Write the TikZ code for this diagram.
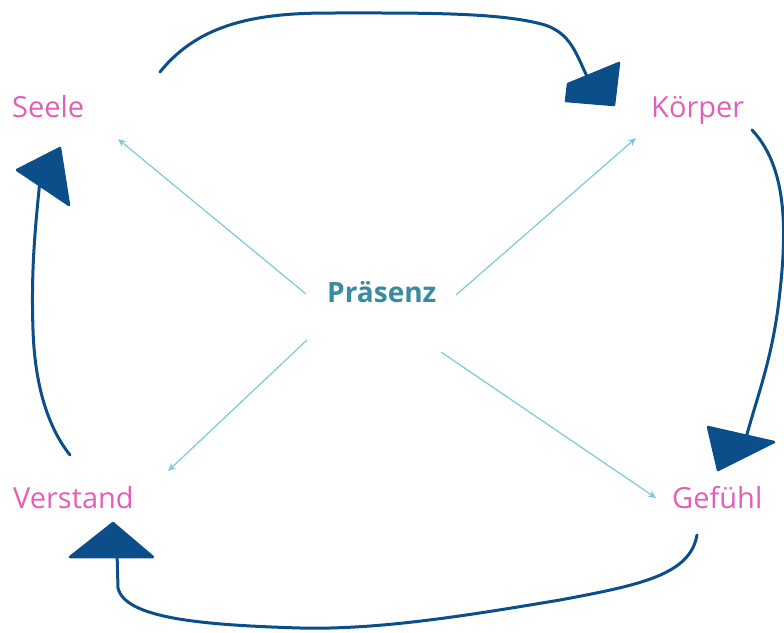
\documentclass[tikz,border=0pt]{standalone}
\usepackage{fontspec}
\setmainfont{Open Sans}
\usetikzlibrary{arrows.meta}
\definecolor{pinklab}{RGB}{225,95,185}
\definecolor{tealtxt}{RGB}{55,140,162}
\definecolor{lightln}{RGB}{125,200,218}
\definecolor{darkln}{RGB}{12,78,138}
\tikzset{
  lab/.style={text=pinklab, anchor=base west, inner sep=0pt, font=\fontsize{29}{30}\selectfont},
  ctr/.style={text=tealtxt, anchor=base west, inner sep=0pt, font=\fontsize{28}{29}\selectfont\fontseries{sb}\selectfont},
  spoke/.style={draw=lightln, line width=1.2pt, -{Stealth[length=8pt,width=7pt]}},
  loop/.style={draw=darkln, line width=3pt, line cap=round, line join=round},
  head/.style={draw=darkln, fill=darkln, line width=2.5pt, line join=round}
}
\begin{document}
\begin{tikzpicture}[x=1pt,y=-1pt]
\useasboundingbox (0,0) rectangle (784,632);
% labels
\node[lab] (seele) at (12,117) {Seele};
\node[lab] (koerper) at (651,117) {Körper};
\node[lab] (verstand) at (13,508) {Verstand};
\node[lab] (gefuehl) at (672,508) {Gefühl};
\node[ctr] (praesenz) at (327,302) {Präsenz};
% spoke endpoints
\coordinate (s0) at (306,294);
\coordinate (s1) at (118,139);
\coordinate (k0) at (456,295);
\coordinate (k1) at (636,138);
\coordinate (v0) at (307,340);
\coordinate (v1) at (168,471);
\coordinate (g0) at (441,352);
\coordinate (g1) at (656,498);
\draw[spoke] (s0) -- (s1);
\draw[spoke] (k0) -- (k1);
\draw[spoke] (v0) -- (v1);
\draw[spoke] (g0) -- (g1);
% loop endpoints
\coordinate (t0) at (160,72);
\coordinate (t1) at (592,86);
\coordinate (r0) at (752,130);
\coordinate (r1) at (746,438);
\coordinate (b0) at (697,535);
\coordinate (b1) at (117,552);
\coordinate (l0) at (70,455);
\coordinate (l1) at (40,180);
\draw[loop] (t0) .. controls (200,22) and (260,13) .. (330,13)
  .. controls (420,13) and (500,12) .. (545,25)
  .. controls (575,35) and (578,62) .. (t1);
\draw[loop] (r0) .. controls (790,170) and (786,240) .. (779,300)
  .. controls (772,360) and (756,400) .. (r1);
\draw[loop] (b0) .. controls (690,575) and (640,585) .. (560,600)
  .. controls (470,615) and (380,630) .. (300,628)
  .. controls (200,625) and (125,618) .. (118,588) -- (b1);
\draw[loop] (l0) .. controls (50,430) and (35,390) .. (33,330)
  .. controls (31,270) and (35,230) .. (l1);
% hand-drawn heads
\draw[head] (566,101) -- (568,84) -- (619,63) -- (614,105) -- cycle;
\draw[head] (708,427) -- (774,442) -- (718,470) -- cycle;
\draw[head] (70,557) -- (113,523) -- (153,557) -- cycle;
\draw[head] (17,170) -- (60,148) -- (69,205) -- cycle;
\end{tikzpicture}
\end{document}
